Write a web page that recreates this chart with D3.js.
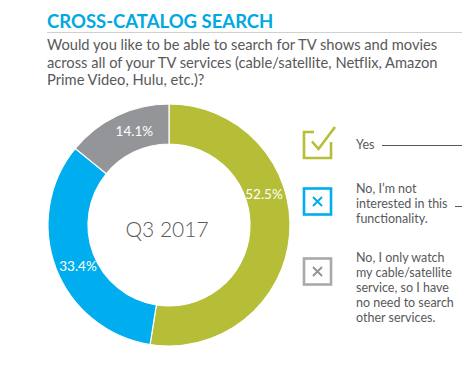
<!DOCTYPE html>
<html><head><meta charset="utf-8">
<script src="https://cdn.jsdelivr.net/npm/d3@7"></script>
<style>
html,body{margin:0;padding:0;background:#fff;}
svg text{font-family:Lato,"Open Sans",sans-serif;}
</style></head>
<body>
<svg id="chart" width="462" height="367"></svg>
<script>
const categories = ["Yes", "No, I'm not interested in this functionality.", "No, I only watch my cable/satellite service, so I have no need to search other services."];
const values = [52.5, 33.4, 14.1];
const valueLabels = ["52.5%", "33.4%", "14.1%"];
const legendLines = [["Yes"], ["No, I’m not", "interested in this", "functionality."], ["No, I only watch", "my cable/satellite", "service, so I have", "no need to search", "other services."]];
const colors = ["#b5be36", "#00aeef", "#939598"];
const iconColors = ["#b5be36", "#00aeef", "#a7a9ac"];
const centerLabel = "Q3 2017";
const title = "CROSS-CATALOG SEARCH";
const subtitle = ["Would you like to be able to search for TV shows and movies", "across all of your TV services (cable/satellite, Netflix, Amazon", "Prime Video, Hulu, etc.)?"];

const svg = d3.select("#chart");

// Title
svg.append("text").attr("x", 47).attr("y", 28).text(title)
  .attr("font-size", 18.5).attr("font-weight", 700).attr("fill", "#00a9e0");
svg.append("line").attr("x1", 47).attr("x2", 462).attr("y1", 32.5).attr("y2", 32.5)
  .attr("stroke", "#cfd0d2").attr("stroke-width", 1.2);
svg.append("g").selectAll("text").data(subtitle).join("text")
  .attr("x", 47).attr("y", (d, i) => 50 + i * 17.7)
  .attr("font-size", 14.7).attr("fill", "#58595b").text(d => d);

// Donut
const cx = 169, cy = 225, rOuter = 121, rInner = 81;
const pie = d3.pie().sort(null).value(d => d);
const arcs = pie(values);
const arc = d3.arc().innerRadius(rInner).outerRadius(rOuter);
const g = svg.append("g").attr("transform", `translate(${cx},${cy})`);
g.selectAll("path").data(arcs).join("path")
  .attr("d", arc).attr("fill", (d, i) => colors[i])
  .attr("stroke", "#fff").attr("stroke-width", 1.2);

// label placement: angle within slice (fraction) and radius
const labelFrac = [0.38, 0.47, 0.6];
const labelR = 100;
g.selectAll("text.val").data(arcs).join("text").attr("class", "val")
  .attr("x", (d, i) => labelR * Math.sin(d.startAngle + (d.endAngle - d.startAngle) * labelFrac[i]))
  .attr("y", (d, i) => -labelR * Math.cos(d.startAngle + (d.endAngle - d.startAngle) * labelFrac[i]))
  .attr("text-anchor", "middle").attr("dominant-baseline", "central")
  .attr("font-size", 13.5).attr("fill", "#fff").text((d, i) => valueLabels[i]);

g.append("text").attr("x", -2).attr("y", 3).attr("text-anchor", "middle")
  .attr("dominant-baseline", "central").attr("font-size", 21).attr("font-weight", 300)
  .attr("fill", "#58595b").text(centerLabel);

// Legend
const iconX = 304, iconW = 27, iconH = 26;
const iconY = [132, 188.5, 258.5];
const textY = [149.3, 192.7, 261.7];
const lineH = 15.1;
const leg = svg.append("g");
categories.forEach((c, i) => {
  const x0 = iconX, y0 = iconY[i];
  if (i === 0) {
    leg.append("path")
      .attr("d", `M${x0 + 10},${y0} H${x0} V${y0 + iconH} H${x0 + iconW} V${y0 + 10}`)
      .attr("fill", "none").attr("stroke", iconColors[i]).attr("stroke-width", 2.6);
    leg.append("path")
      .attr("d", `M${x0 + 8},${y0 + 9.5} L${x0 + 14.5},${y0 + 17} L${x0 + 31},${y0 - 5}`)
      .attr("fill", "none").attr("stroke", iconColors[i]).attr("stroke-width", 2.6);
  } else {
    leg.append("rect").attr("x", x0).attr("y", y0).attr("width", iconW).attr("height", iconH)
      .attr("fill", "none").attr("stroke", iconColors[i]).attr("stroke-width", 2.6);
    const mx = x0 + iconW / 2, my = y0 + iconH / 2, s = 4.5;
    leg.append("path")
      .attr("d", `M${mx - s},${my - s} L${mx + s},${my + s} M${mx + s},${my - s} L${mx - s},${my + s}`)
      .attr("fill", "none").attr("stroke", i === 1 ? iconColors[i] : "#939598").attr("stroke-width", 2);
  }
  leg.append("g").selectAll("text").data(legendLines[i]).join("text")
    .attr("x", 356).attr("y", (d, j) => textY[i] + j * lineH)
    .attr("font-size", 12.5).attr("fill", "#58595b").text(d => d);
});
// leader lines
leg.append("line").attr("x1", 382).attr("x2", 462).attr("y1", 145.5).attr("y2", 145.5)
  .attr("stroke", "#58595b").attr("stroke-width", 1);
leg.append("line").attr("x1", 455).attr("x2", 462).attr("y1", 206.5).attr("y2", 206.5)
  .attr("stroke", "#58595b").attr("stroke-width", 1);
</script>
</body></html>
